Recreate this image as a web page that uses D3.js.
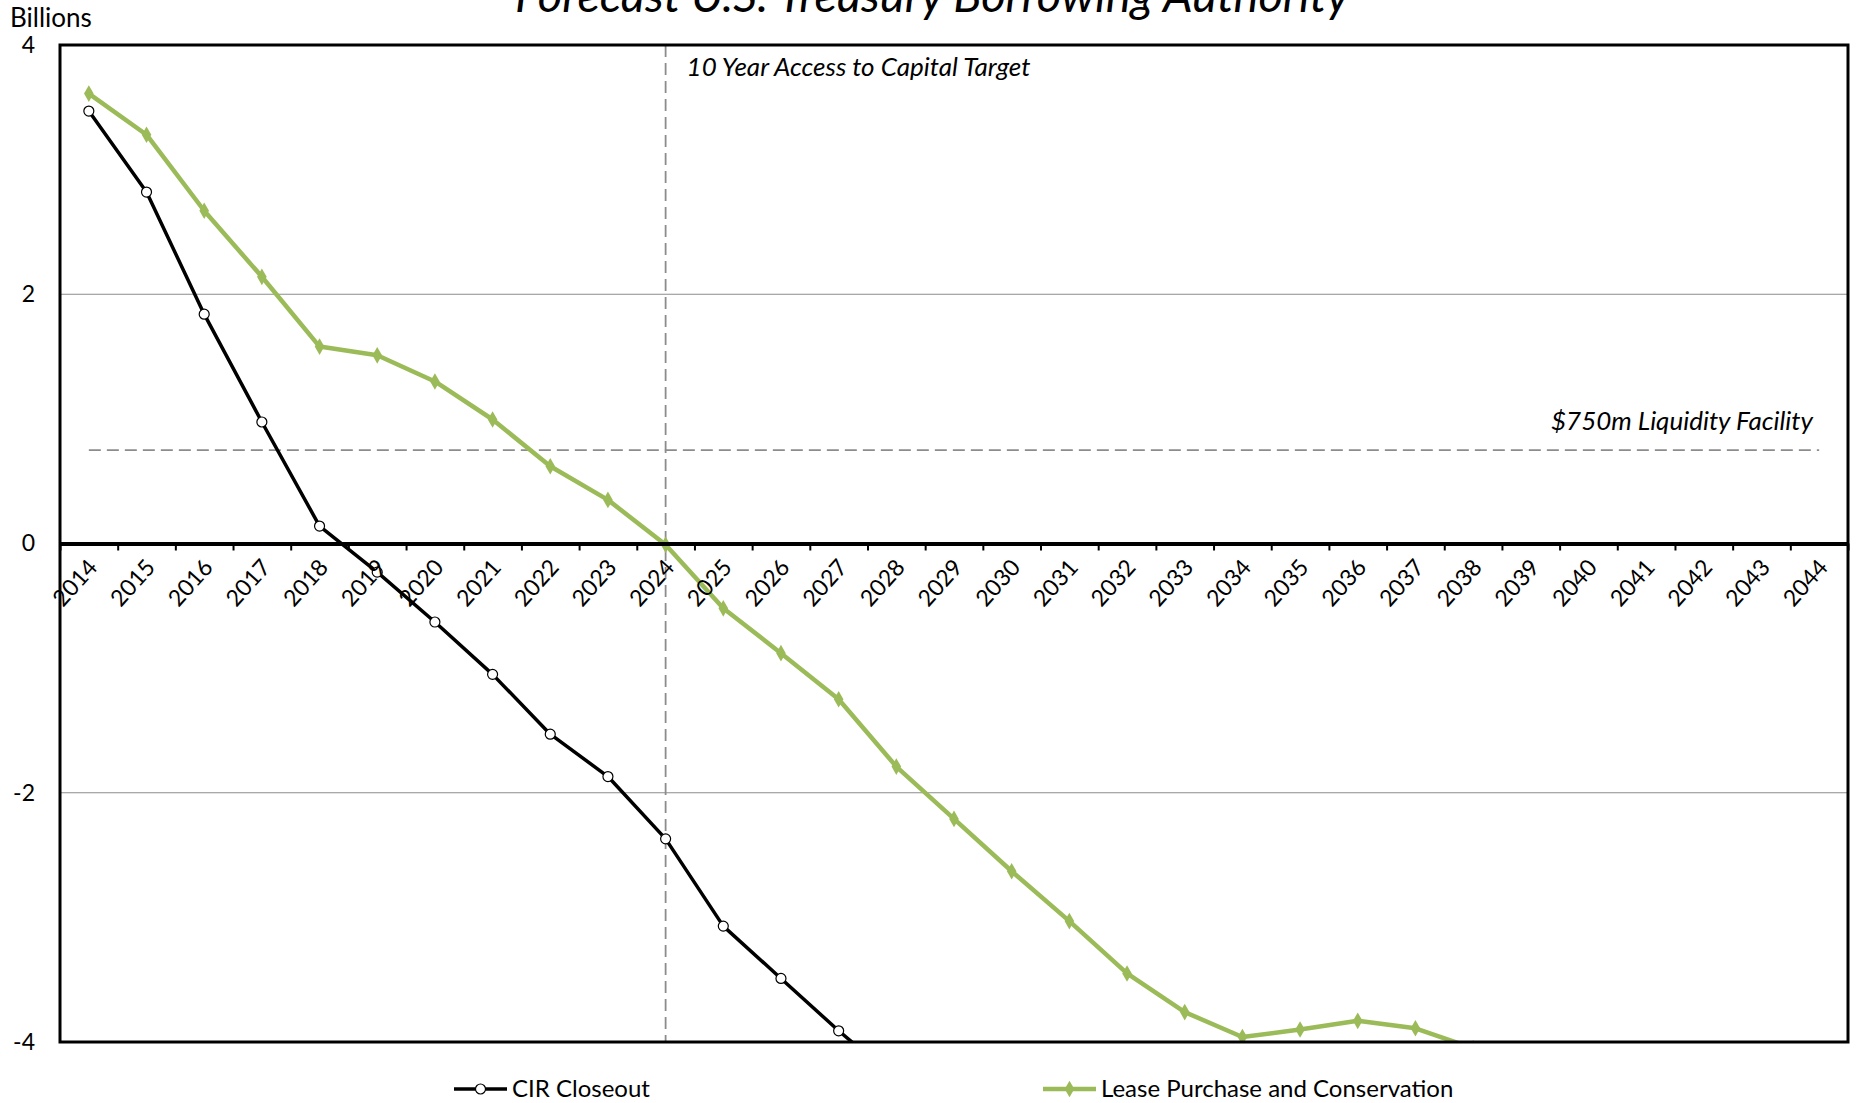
<!DOCTYPE html>
<html>
<head>
<meta charset="utf-8">
<script src="https://cdn.jsdelivr.net/npm/d3@7"></script>
<style>
  html, body { margin: 0; padding: 0; background: #fff; }
  svg { display: block; font-family: Lato, "Open Sans", sans-serif; }
</style>
</head>
<body>
<svg id="chart" width="1858" height="1103"></svg>
<script>
// Fiscal years on the category axis
const years = d3.range(2014, 2045).map(String);

// Forecast borrowing headroom, $ billions
const cirCloseout = [3.47, 2.82, 1.84, 0.975, 0.14, -0.23, -0.63, -1.05, -1.53, -1.87,
                     -2.37, -3.07, -3.49, -3.91, -4.30];
const leasePurchase = [3.61, 3.28, 2.67, 2.14, 1.58, 1.51, 1.30, 0.995, 0.62, 0.35,
                       -0.01, -0.52, -0.88, -1.25, -1.79, -2.21, -2.63, -3.03, -3.45, -3.76,
                       -3.96, -3.90, -3.83, -3.89, -4.05];

const yTicks = [-4, -2, 0, 2, 4];
const liquidityFacility = 0.75;   // $750m facility, in billions
const accessTargetYear = "2024";

const svg = d3.select("#chart");
const plotLeft = 60, plotRight = 1848, plotTop = 45, plotBottom = 1042;

const x = d3.scaleBand().domain(years).range([plotLeft, plotRight]).paddingInner(0).paddingOuter(0);
const xEdge = d3.scaleLinear().domain([0, years.length]).range([plotLeft, plotRight]);
const y = d3.scaleLinear().domain([-4, 4]).range([plotBottom, plotTop]);
const cx = d => x(d) + x.bandwidth() / 2;

// Title
svg.append("text")
  .attr("x", 932).attr("y", 12)
  .attr("text-anchor", "middle")
  .style("font-style", "italic")
  .style("font-size", "47px")
  .attr("fill", "#000")
  .text("Forecast U.S. Treasury Borrowing Authority");

// Unit label
svg.append("text")
  .attr("x", 10).attr("y", 27)
  .style("font-size", "26px")
  .text("Billions");

// Horizontal gridlines
svg.append("g").selectAll("line")
  .data(yTicks.filter(v => v !== 0 && v !== 4 && v !== -4))
  .join("line")
  .attr("x1", plotLeft).attr("x2", plotRight)
  .attr("y1", d => y(d)).attr("y2", d => y(d))
  .attr("stroke", "#8c8c8c").attr("stroke-width", 1.2);

// Y axis labels
const yAxis = svg.append("g")
  .attr("transform", `translate(${plotLeft},0)`)
  .call(d3.axisLeft(y).tickValues(yTicks).tickSize(0).tickPadding(25).tickFormat(d => String(d)));
yAxis.select(".domain").remove();
yAxis.selectAll("text").style("font-size", "23px").style("font-family", "Lato, sans-serif").attr("fill", "#000");

// Reference lines
svg.append("line")
  .attr("x1", cx(years[0])).attr("x2", cx(years[years.length - 1]))
  .attr("y1", y(liquidityFacility)).attr("y2", y(liquidityFacility))
  .attr("stroke", "#8c8c8c").attr("stroke-width", 1.8).attr("stroke-dasharray", "12,6");
svg.append("line")
  .attr("x1", cx(accessTargetYear)).attr("x2", cx(accessTargetYear))
  .attr("y1", plotTop).attr("y2", plotBottom)
  .attr("stroke", "#8c8c8c").attr("stroke-width", 1.8).attr("stroke-dasharray", "12,6");

svg.append("text")
  .attr("x", cx(accessTargetYear) + 21).attr("y", 76)
  .style("font-style", "italic").style("font-size", "26px")
  .text("10 Year Access to Capital Target");
svg.append("text")
  .attr("x", 1813).attr("y", 430)
  .attr("text-anchor", "end")
  .style("font-style", "italic").style("font-size", "26px")
  .text("$750m Liquidity Facility");

// Plot clip
svg.append("clipPath").attr("id", "plotClip")
  .append("rect").attr("x", plotLeft).attr("y", plotTop)
  .attr("width", plotRight - plotLeft).attr("height", plotBottom - plotTop);

const line = d3.line().x((d, i) => cx(years[i])).y(d => y(d));
const plot = svg.append("g").attr("clip-path", "url(#plotClip)");

const green = "#9bbb59";
plot.append("path").datum(leasePurchase)
  .attr("d", line).attr("fill", "none").attr("stroke", green).attr("stroke-width", 4.5)
  .attr("stroke-linejoin", "round");
plot.append("g").selectAll("path")
  .data(leasePurchase)
  .join("path")
  .attr("d", d3.symbol().type(d3.symbolDiamond).size(80))
  .attr("transform", (d, i) => `translate(${cx(years[i])},${y(d)})`)
  .attr("fill", green);

plot.append("path").datum(cirCloseout)
  .attr("d", line).attr("fill", "none").attr("stroke", "#000").attr("stroke-width", 3.5)
  .attr("stroke-linejoin", "round");
plot.append("g").selectAll("circle")
  .data(cirCloseout)
  .join("circle")
  .attr("cx", (d, i) => cx(years[i])).attr("cy", d => y(d)).attr("r", 5)
  .attr("fill", "#fff").attr("stroke", "#000").attr("stroke-width", 1.2);

// Plot border
svg.append("rect")
  .attr("x", plotLeft).attr("y", plotTop)
  .attr("width", plotRight - plotLeft).attr("height", plotBottom - plotTop)
  .attr("fill", "none").attr("stroke", "#000").attr("stroke-width", 3);

// Category axis on zero line
const xAxis = svg.append("g")
  .attr("transform", `translate(0,${y(0)})`)
  .call(d3.axisBottom(xEdge).tickValues(d3.range(years.length + 1)).tickFormat("").tickSizeInner(7).tickSizeOuter(0));
xAxis.select(".domain").attr("stroke", "#000").attr("stroke-width", 4);
xAxis.selectAll(".tick line").attr("stroke", "#000").attr("stroke-width", 2);

svg.append("g").selectAll("text")
  .data(years)
  .join("text")
  .attr("transform", d => `translate(${cx(d) - 2},${y(0) + 14}) rotate(-48)`)
  .attr("text-anchor", "end")
  .attr("dy", "0.7em")
  .style("font-size", "23px")
  .text(d => d);

// Legend
const legend = svg.append("g").attr("transform", "translate(0,1089)");
const items = [
  { name: "CIR Closeout", x0: 454, kind: "circle" },
  { name: "Lease Purchase and Conservation", x0: 1043, kind: "diamond" }
];
items.forEach(it => {
  const g = legend.append("g").attr("transform", `translate(${it.x0},0)`);
  if (it.kind === "circle") {
    g.append("line").attr("x1", 0).attr("x2", 53).attr("y1", 0).attr("y2", 0).attr("stroke", "#000").attr("stroke-width", 3.5);
    g.append("circle").attr("cx", 26.5).attr("cy", 0).attr("r", 5).attr("fill", "#fff").attr("stroke", "#000").attr("stroke-width", 1.2);
  } else {
    g.append("line").attr("x1", 0).attr("x2", 53).attr("y1", 0).attr("y2", 0).attr("stroke", green).attr("stroke-width", 4.5);
    g.append("path").attr("d", d3.symbol().type(d3.symbolDiamond).size(80)).attr("transform", "translate(26.5,0)").attr("fill", green);
  }
  g.append("text").attr("x", 58).attr("y", 0).attr("dy", "0.35em").style("font-size", "24px").text(it.name);
});
</script>
</body>
</html>
